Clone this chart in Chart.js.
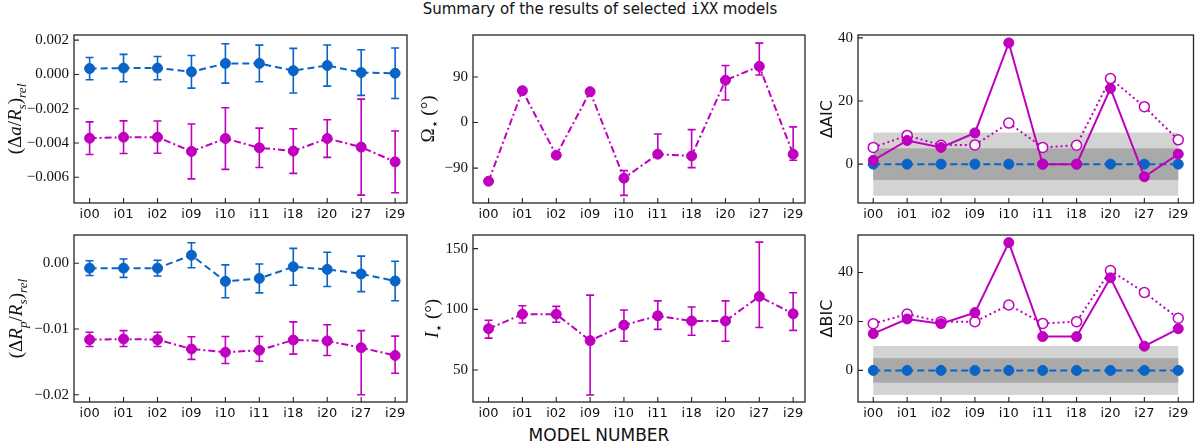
<!DOCTYPE html>
<html>
<head>
<meta charset="utf-8">
<script src="https://cdn.jsdelivr.net/npm/chart.js@4.4.1/dist/chart.umd.min.js"></script>
<style>
  body { margin: 0; width: 1200px; height: 444px; background: #fff; position: relative; overflow: hidden; }
  .panel { position: absolute; }
  #title { position: absolute; top: 0; left: 0; width: 1200px; text-align: center; font: 15px/18px "DejaVu Sans"; color: #111; }
  #title span { font-family: "DejaVu Sans Mono"; }
  #xlabel { position: absolute; top: 425px; left: 399px; width: 400px; text-align: center; font: 17px/20px "DejaVu Sans"; color: #111; }
</style>
</head>
<body>
<div id="title">Summary of the results of selected <span>iXX</span> models</div>
<div id="xlabel">MODEL NUMBER</div>
<script>
const models = ["i00", "i01", "i02", "i09", "i10", "i11", "i18", "i20", "i27", "i29"];

// (Δa/Rs)rel
const aRsBlue = [0.00034, 0.00037, 0.00037, 0.00015, 0.00064, 0.00064, 0.00022, 0.00052, 0.00011, 0.00007];
const aRsBlueErr = [0.00065, 0.0008, 0.00068, 0.00095, 0.00115, 0.00107, 0.0013, 0.0012, 0.00133, 0.00147];
const aRsMag = [-0.00372, -0.00366, -0.00366, -0.00449, -0.00374, -0.00428, -0.00447, -0.00374, -0.00424, -0.0051];
const aRsMagErr = [0.00095, 0.00095, 0.00094, 0.0016, 0.0018, 0.00115, 0.0013, 0.0011, 0.0028, 0.0018];

// (ΔRp/Rs)rel
const rpBlue = [-0.00074, -0.00074, -0.00074, 0.00123, -0.00275, -0.0023, -0.00054, -0.00093, -0.00162, -0.0027];
const rpBlueErr = [0.00113, 0.0014, 0.0012, 0.0019, 0.0025, 0.0022, 0.0028, 0.0026, 0.0027, 0.003];
const rpMag = [-0.01162, -0.01152, -0.01162, -0.01304, -0.01353, -0.01324, -0.01167, -0.01181, -0.01284, -0.01402];
const rpMagErrUp = [0.00113, 0.00127, 0.00113, 0.00186, 0.0024, 0.00211, 0.00275, 0.00245, 0.00259, 0.00294];
const rpMagErrDn = [0.00103, 0.00113, 0.00103, 0.00157, 0.00172, 0.00166, 0.00215, 0.00221, 0.00716, 0.0027];

// Ω* (deg)
const omega = [-116, 63, -64.5, 61, -110, -62.5, -66, 83.6, 111, -62.5];
const omegaErrUp = [2, 2, 2, 2, 15, 40, 52, 29, 46, 54];
const omegaErrDn = [2, 2, 2, 2, 34, 3, 23, 39, 17, 12];

// I* (deg)
const incl = [84, 96, 96, 74.2, 87, 94.7, 90.4, 90.4, 110.6, 96.3];
const inclErrUp = [7, 7, 6.4, 37.5, 12.5, 12.3, 11.5, 16.6, 44.7, 17.3];
const inclErrDn = [7.7, 7.2, 6.6, 44.7, 13.3, 11.2, 11.7, 16.7, 25.6, 13.6];

// ΔAIC / ΔBIC
const aicRef = [0, 0, 0, 0, 0, 0, 0, 0, 0, 0];
const aicFilled = [1.2, 7.5, 5.3, 9.9, 38.4, 0, 0, 24, -4, 3.2];
const aicOpen = [5.3, 9.1, 6, 6.1, 13, 5.3, 6, 27.1, 18.2, 7.7];
const bicRef = [0, 0, 0, 0, 0, 0, 0, 0, 0, 0];
const bicFilled = [15, 21, 19.1, 23.6, 52.2, 13.8, 13.8, 37.8, 9.9, 17];
const bicOpen = [19.1, 23, 19.9, 19.9, 26.7, 19.2, 19.9, 40.8, 31.8, 21.3];
const bandInner = 5;
const bandOuter = 10;

const BLUE = "#0a64c8";
const MAG = "#bf00bf";
const serif = '"Liberation Serif", "DejaVu Serif", serif';

const pts = arr => arr.map((v, i) => ({ x: i, y: v }));
const fmtMinus = s => s.replace("-", "\u2212");

function series(values, color, dash, extra) {
  return Object.assign({
    data: pts(values),
    borderColor: color,
    backgroundColor: color,
    pointBackgroundColor: color,
    pointBorderColor: color,
    pointRadius: 5,
    pointBorderWidth: 1,
    borderWidth: 2,
    borderDash: dash,
    tension: 0,
  }, extra || {});
}

// draws rotated mixed-font axis title; flags: i italic, s subscript, S sans
function drawTitle(ctx, parts, cx, cy, size) {
  const items = parts.map(([t, f]) => {
    const sz = f.includes("s") ? size * 0.7 : size;
    const fam = f.includes("S") ? '"DejaVu Sans"' : serif;
    return { t, font: (f.includes("i") ? "italic " : "") + sz + "px " + fam, dy: f.includes("s") ? size * 0.28 : 0 };
  });
  ctx.save();
  let total = 0;
  items.forEach(it => { ctx.font = it.font; it.w = ctx.measureText(it.t).width; total += it.w; });
  ctx.translate(cx, cy);
  ctx.rotate(-Math.PI / 2);
  ctx.fillStyle = "#111";
  ctx.textBaseline = "alphabetic";
  let x = -total / 2;
  items.forEach(it => {
    ctx.font = it.font;
    ctx.fillText(it.t, x, size * 0.35 + it.dy);
    x += it.w;
  });
  ctx.restore();
}

function makeDeco(cfg) {
  return {
    id: "deco",
    beforeDatasetsDraw(chart) {
      const ctx = chart.ctx, xs = chart.scales.x, ys = chart.scales.y;
      if (cfg.bands) {
        const x0 = xs.getPixelForValue(0), x1 = xs.getPixelForValue(models.length - 1);
        [[bandOuter, "#d3d3d3"], [bandInner, "#a9a9a9"]].forEach(([w, c]) => {
          const y0 = ys.getPixelForValue(w), y1 = ys.getPixelForValue(-w);
          ctx.fillStyle = c;
          ctx.fillRect(x0, y0, x1 - x0, y1 - y0);
        });
      }
      chart.data.datasets.forEach(ds => {
        if (!ds.errUp) return;
        ctx.save();
        ctx.strokeStyle = ds.borderColor;
        ctx.lineWidth = 1.6;
        ds.data.forEach((p, i) => {
          const x = xs.getPixelForValue(p.x);
          const yt = ys.getPixelForValue(p.y + ds.errUp[i]);
          const yb = ys.getPixelForValue(p.y - ds.errDn[i]);
          ctx.beginPath();
          ctx.moveTo(x, yt); ctx.lineTo(x, yb);
          ctx.moveTo(x - 4, yt); ctx.lineTo(x + 4, yt);
          ctx.moveTo(x - 4, yb); ctx.lineTo(x + 4, yb);
          ctx.stroke();
        });
        ctx.restore();
      });
    },
    afterDraw(chart) {
      const ctx = chart.ctx, a = chart.chartArea, xs = chart.scales.x, ys = chart.scales.y;
      ctx.save();
      ctx.strokeStyle = "#262626";
      ctx.lineWidth = 1.3;
      ctx.strokeRect(a.left, a.top, a.right - a.left, a.bottom - a.top);
      ctx.lineWidth = 1.1;
      ctx.beginPath();
      ys.ticks.forEach(t => {
        const y = ys.getPixelForValue(t.value);
        ctx.moveTo(a.left, y); ctx.lineTo(a.left + 5, y);
      });
      xs.ticks.forEach(t => {
        const x = xs.getPixelForValue(t.value);
        ctx.moveTo(x, a.bottom); ctx.lineTo(x, a.bottom - 5);
      });
      ctx.stroke();
      ctx.restore();
      drawTitle(ctx, cfg.title, a.left + cfg.titleX, (a.top + a.bottom) / 2 + (cfg.titleDy || 0), cfg.titleSize || 19);
    }
  };
}

const padL = 72, padT = 8, padR = 3, padB = 26;

function panel(frame, cfg) {
  const [l, t, r, b] = frame;
  const div = document.createElement("div");
  div.className = "panel";
  div.style.left = (l - padL) + "px";
  div.style.top = (t - padT) + "px";
  div.style.width = (r - l + padL + padR) + "px";
  div.style.height = (b - t + padT + padB) + "px";
  const canvas = document.createElement("canvas");
  div.appendChild(canvas);
  document.body.appendChild(div);

  new Chart(canvas, {
    type: "line",
    data: { datasets: cfg.datasets },
    options: {
      responsive: true,
      maintainAspectRatio: false,
      animation: false,
      layout: { padding: { top: padT, right: padR, left: 0, bottom: 0 } },
      plugins: { legend: { display: false }, tooltip: { enabled: false } },
      scales: {
        x: {
          type: "linear",
          min: cfg.xr[0], max: cfg.xr[1],
          grid: { display: false, drawTicks: false },
          border: { display: false },
          afterBuildTicks: s => { s.ticks = models.map((m, i) => ({ value: i })); },
          afterFit: s => { s.height = padB; },
          ticks: {
            autoSkip: false, maxRotation: 0, padding: 4, color: "#111",
            font: { family: '"DejaVu Sans"', size: 13 },
            callback: v => models[v]
          }
        },
        y: {
          min: cfg.yr[0], max: cfg.yr[1],
          grid: { display: false, drawTicks: false },
          border: { display: false },
          afterBuildTicks: s => { s.ticks = cfg.yticks.map(v => ({ value: v })); },
          afterFit: s => { s.width = padL; },
          ticks: {
            padding: 5, color: "#111",
            font: { family: serif, size: 15 },
            callback: v => fmtMinus(cfg.fmt(v))
          }
        }
      }
    },
    plugins: [makeDeco(cfg)]
  });
}

const dashBlue = [7, 4];
const dashDot = [7, 3, 2, 3];
const xLeft = [-0.46, 9.35];
const xRight = [-0.45, 9.45];

panel([74, 29, 410, 203], {
  xr: xLeft, yr: [-0.0075, 0.0023], yticks: [-0.006, -0.004, -0.002, 0, 0.002],
  fmt: v => v.toFixed(3),
  title: [["(\u0394", ""], ["a", "i"], ["/", ""], ["R", "i"], ["s", "is"], [")", ""], ["rel", "is"]],
  titleX: -60,
  datasets: [
    series(aRsBlue, BLUE, dashBlue, { errUp: aRsBlueErr, errDn: aRsBlueErr }),
    series(aRsMag, MAG, dashDot, { errUp: aRsMagErr, errDn: aRsMagErr })
  ]
});

panel([74, 229, 410, 402], {
  xr: xLeft, yr: [-0.0211, 0.0043], yticks: [-0.02, -0.01, 0],
  fmt: v => v.toFixed(2),
  title: [["(\u0394", ""], ["R", "i"], ["p", "is"], ["/", ""], ["R", "i"], ["s", "is"], [")", ""], ["rel", "is"]],
  titleX: -59,
  datasets: [
    series(rpBlue, BLUE, dashBlue, { errUp: rpBlueErr, errDn: rpBlueErr }),
    series(rpMag, MAG, dashDot, { errUp: rpMagErrUp, errDn: rpMagErrDn })
  ]
});

panel([473, 29, 808, 203], {
  xr: xLeft, yr: [-159, 173], yticks: [-90, 0, 90],
  fmt: v => String(v),
  title: [["\u03A9", ""], ["\u22C6", "s"], [" (\u00B0)", ""]],
  titleX: -46,
  datasets: [
    series(omega, MAG, dashDot, { errUp: omegaErrUp, errDn: omegaErrDn })
  ]
});

panel([473, 229, 808, 402], {
  xr: xLeft, yr: [23.7, 161.2], yticks: [50, 100, 150],
  fmt: v => String(v),
  title: [["I", "i"], ["\u22C6", "s"], [" (\u00B0)", ""]],
  titleX: -42,
  datasets: [
    series(incl, MAG, dashDot, { errUp: inclErrUp, errDn: inclErrDn })
  ]
});

panel([858, 29, 1197, 203], {
  xr: xRight, yr: [-12.3, 40.9], yticks: [0, 20, 40], bands: true,
  fmt: v => String(v),
  title: [["\u0394AIC", "S"]],
  titleX: -32, titleSize: 16,
  datasets: [
    series(aicRef, BLUE, dashBlue, { order: 3 }),
    series(aicOpen, MAG, [2, 3], { order: 2, pointBackgroundColor: "#fff", pointBorderWidth: 1.5 }),
    series(aicFilled, MAG, [], { order: 1 })
  ]
});

panel([858, 229, 1197, 402], {
  xr: xRight, yr: [-12.9, 55.3], yticks: [0, 20, 40], bands: true,
  fmt: v => String(v),
  title: [["\u0394BIC", "S"]],
  titleX: -32, titleSize: 16,
  datasets: [
    series(bicRef, BLUE, dashBlue, { order: 3 }),
    series(bicOpen, MAG, [2, 3], { order: 2, pointBackgroundColor: "#fff", pointBorderWidth: 1.5 }),
    series(bicFilled, MAG, [], { order: 1 })
  ]
});
</script>
</body>
</html>
